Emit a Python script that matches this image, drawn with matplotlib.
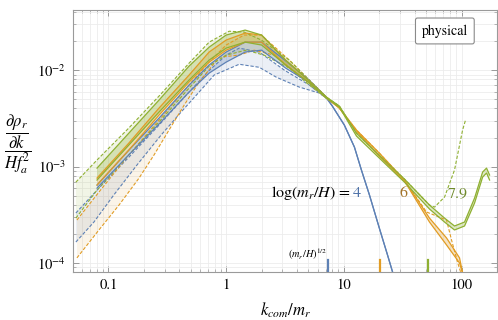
import numpy as np
import matplotlib
matplotlib.use("Agg")
import matplotlib.pyplot as plt
from matplotlib.ticker import LogLocator, NullFormatter, FixedLocator, FixedFormatter

plt.rcParams['mathtext.fontset'] = 'stix'
plt.rcParams['font.family'] = ['STIXGeneral', 'DejaVu Serif']

BLUE = '#5e81b5'
ORANGE = '#e19c24'
GREEN = '#8fb032'

# ---------------- data ----------------
log_values = ['4', '6', '7.9']
sqrt_mr_H = [7.39, 20.1, 51.9]

# solid bands (low / mid k)
XS = [0.08, 0.149, 0.269, 0.484, 0.717, 1.0, 1.45, 2.0, 3.2, 5.0, 7.1]
blue_solid_hi = [0.000643, 0.00148, 0.00318, 0.0070, 0.0113, 0.0154, 0.0195, 0.0195, 0.0125, 0.0080, 0.00525]
blue_solid_lo = [0.000598, 0.00132, 0.00276, 0.00592, 0.00931, 0.0121, 0.0154, 0.0161, 0.0105, 0.00751, 0.00513]
orange_solid_hi = [0.00076, 0.00175, 0.00404, 0.00888, 0.0154, 0.0205, 0.0242, 0.0231, 0.0127, 0.00787, 0.00525]
orange_solid_lo = [0.000643, 0.00148, 0.00342, 0.00751, 0.0121, 0.0161, 0.0195, 0.0195, 0.0113, 0.00751, 0.00513]
green_solid_hi = [0.000964, 0.00222, 0.00489, 0.0110, 0.0173, 0.0231, 0.026, 0.0231, 0.0127, 0.00787, 0.00525]
green_solid_lo = [0.000725, 0.00167, 0.00367, 0.00787, 0.0127, 0.0169, 0.0195, 0.0182, 0.0113, 0.00751, 0.00513]

# high-k tails of the solid curves
blue_tail_x = [7.98, 10.1, 12.3, 14.1, 16.5, 20.0, 23.5, 26.4]
blue_tail_y = [0.00424, 0.00269, 0.00159, 0.00092, 0.000507, 0.000231, 0.000121, 7.5e-5]
orange_tail_x = [9.16, 12.8, 20.0, 32.7, 53.4, 74.5, 96.1, 103]
orange_tail_hi = [0.00404, 0.00239, 0.00138, 0.000725, 0.000292, 0.000182, 0.000113, 7.5e-5]
orange_tail_lo = [0.00404, 0.00234, 0.00128, 0.00071, 0.000266, 0.000154, 0.0001, 7.5e-5]
green_tail_x = [9.16, 12.8, 23.0, 32.7, 53.4, 71.7, 87.1, 106, 129, 151, 163, 173]
green_tail_hi = [0.00424, 0.00222, 0.00111, 0.000742, 0.000399, 0.000292, 0.000242, 0.000266, 0.000472, 0.000878, 0.000964, 0.000817]
green_tail_lo = [0.00414, 0.00207, 0.00104, 0.00069, 0.000363, 0.000266, 0.00022, 0.000242, 0.000419, 0.000778, 0.000857, 0.000725]

# dashed bands
blue_dash_hi_x = [0.0529, 0.08, 0.149, 0.269, 0.484, 0.717, 1.0, 1.29, 1.91, 3.12, 5.09, 7.1]
blue_dash_hi_y = [0.00033, 0.00057, 0.00125, 0.00269, 0.00592, 0.0099, 0.0143, 0.0169, 0.0154, 0.0100, 0.0070, 0.00513]
blue_dash_lo_x = [0.0529, 0.0753, 0.111, 0.175, 0.280, 0.414, 0.589, 0.79, 1.29, 1.91, 2.66, 4.18, 6.19, 7.1]
blue_dash_lo_y = [0.000165, 0.000266, 0.000507, 0.00104, 0.00212, 0.00367, 0.00592, 0.00888, 0.0115, 0.0107, 0.00846, 0.00667, 0.00578, 0.00513]

orange_dash_hi_x = [0.054, 0.083, 0.149, 0.269, 0.484, 0.717, 1.0, 1.42, 1.99, 3.44, 5.09, 7.1,
                    9.16, 12.8, 20.0, 32.7, 50.4, 74.5, 82.2, 92.4, 100]
orange_dash_hi_y = [0.000279, 0.000544, 0.00132, 0.00303, 0.0070, 0.0121, 0.0182, 0.0231, 0.0231, 0.0127, 0.00787, 0.00525,
                    0.00404, 0.00239, 0.00138, 0.000725, 0.000338, 0.000279, 0.000173, 0.000102, 7.5e-5]
orange_dash_lo_x = [0.054, 0.083, 0.123, 0.182, 0.244, 0.327, 0.44, 0.589, 0.872, 1.29, 1.73, 2.56, 4.18, 7.1]
orange_dash_lo_y = [0.000113, 0.00022, 0.000399, 0.00076, 0.00132, 0.00239, 0.00434, 0.00751, 0.0136, 0.0143, 0.0161, 0.0143, 0.00888, 0.00525]

green_dash_hi_x = [0.0529, 0.08, 0.149, 0.269, 0.484, 0.717, 1.06, 1.42, 1.99, 3.44, 5.09, 7.1,
                   9.16, 12.8, 23.0, 32.7, 53.4, 58.9, 71.7, 87.1, 102, 108]
green_dash_hi_y = [0.00069, 0.00117, 0.00251, 0.00538, 0.0118, 0.0195, 0.0253, 0.0248, 0.0205, 0.0127, 0.00787, 0.00525,
                   0.00424, 0.00222, 0.00111, 0.000742, 0.000399, 0.00038, 0.000483, 0.00092, 0.00239, 0.00303]
green_dash_lo_x = [0.0529, 0.08, 0.149, 0.269, 0.484, 0.717, 1.0, 1.48, 2.10, 3.44, 5.09, 7.1]
green_dash_lo_y = [0.000292, 0.00057, 0.00132, 0.00289, 0.0065, 0.011, 0.0143, 0.0161, 0.0143, 0.0105, 0.0070, 0.00513]

# ---------------- figure ----------------
fig = plt.figure(figsize=(4.98, 3.2), dpi=100)
ax = fig.add_axes([73/498, 48/320, 424/498, 262/320])
ax.set_xscale('log')
ax.set_yscale('log')
ax.set_xlim(0.05, 200)
ax.set_ylim(8.07e-5, 0.042)


def band(xh, yh, xl, yl, color, alpha, ls, lw, xmax=None):
    xh = np.asarray(xh); yh = np.asarray(yh)
    xl = np.asarray(xl); yl = np.asarray(yl)
    if xmax is not None:
        m = xh <= xmax
        fxh, fyh = xh[m], yh[m]
        m2 = xl <= xmax
        fxl, fyl = xl[m2], yl[m2]
    else:
        fxh, fyh, fxl, fyl = xh, yh, xl, yl
    ax.fill(np.r_[fxh, fxl[::-1]], np.r_[fyh, fyl[::-1]], color=color, alpha=alpha, lw=0, zorder=1)
    ax.plot(xh, yh, color=color, ls=ls, lw=lw, zorder=3)
    ax.plot(xl, yl, color=color, ls=ls, lw=lw, zorder=3)


dash = (0, (3, 1.6))
# dashed bands
band(blue_dash_hi_x, blue_dash_hi_y, blue_dash_lo_x, blue_dash_lo_y, BLUE, 0.12, dash, 0.8)
band(orange_dash_hi_x, orange_dash_hi_y, orange_dash_lo_x, orange_dash_lo_y, ORANGE, 0.10, dash, 0.8, xmax=7.2)
band(green_dash_hi_x, green_dash_hi_y, green_dash_lo_x, green_dash_lo_y, GREEN, 0.12, dash, 0.8, xmax=7.2)

# solid bands
band(XS + blue_tail_x, blue_solid_hi + blue_tail_y, XS + blue_tail_x, blue_solid_lo + blue_tail_y, BLUE, 0.28, '-', 0.9)
band(XS + orange_tail_x, orange_solid_hi + orange_tail_hi, XS + orange_tail_x, orange_solid_lo + orange_tail_lo, ORANGE, 0.28, '-', 0.9)
band(XS + green_tail_x, green_solid_hi + green_tail_hi, XS + green_tail_x, green_solid_lo + green_tail_lo, GREEN, 0.28, '-', 0.9)

# sqrt(m_r/H) markers
for xv, c in zip(sqrt_mr_H, [BLUE, ORANGE, GREEN]):
    ax.axvline(xv, ymin=0, ymax=0.045, color=c, lw=1.6, zorder=4)
ax.text(4.9, 1.02e-4, r'$(m_r/H)^{1/2}$', fontsize=7.5, ha='center', va='bottom')

# log labels
ax.text(11.6, 5.3e-4, r'$\log(m_r/H)$ = ', fontsize=11.5, ha='right', va='center')
ax.text(13.0, 5.3e-4, log_values[0], fontsize=11.5, color='#4f72a8', ha='center', va='center')
ax.text(32.1, 5.3e-4, log_values[1], fontsize=11.5, color='#a3742a', ha='center', va='center')
ax.text(92.4, 5.3e-4, log_values[2], fontsize=11.5, color='#6f8a2c', ha='center', va='center')

# "physical" box
ax.text(0.877, 0.92, 'physical', transform=ax.transAxes, fontsize=10, ha='center', va='center',
        bbox=dict(boxstyle='round,pad=0.45,rounding_size=0.15', fc='white', ec='#8a8a8a', lw=0.8), zorder=6)

# axes styling
for s in ax.spines.values():
    s.set_color('#9a9a9a')
    s.set_linewidth(0.8)
ax.xaxis.set_major_locator(FixedLocator([0.1, 1, 10, 100]))
ax.xaxis.set_major_formatter(FixedFormatter(['0.1', '1', '10', '100']))
ax.xaxis.set_minor_locator(LogLocator(base=10, subs=np.arange(2, 10)))
ax.xaxis.set_minor_formatter(NullFormatter())
ax.yaxis.set_major_locator(LogLocator(base=10, numticks=10))
ax.yaxis.set_minor_locator(LogLocator(base=10, subs=np.arange(2, 10), numticks=20))
ax.yaxis.set_minor_formatter(NullFormatter())
ax.tick_params(which='both', direction='in', top=True, right=True, color='#9a9a9a', labelsize=10.5, pad=5)
ax.tick_params(which='major', length=4, width=0.7)
ax.tick_params(which='minor', length=2, width=0.5)
ax.grid(True, which='both', color='#ececec', lw=0.6, zorder=0)
ax.set_axisbelow(True)

ax.set_xlabel(r'$k_{com}/m_r$', fontsize=12, labelpad=6)
fig.text(18/498, 1 - 144/320, r'$\dfrac{\dfrac{\partial\rho_r}{\partial k}}{H f_a^2}$', fontsize=12,
         ha='center', va='center')

fig.savefig('out.png', dpi=100)
